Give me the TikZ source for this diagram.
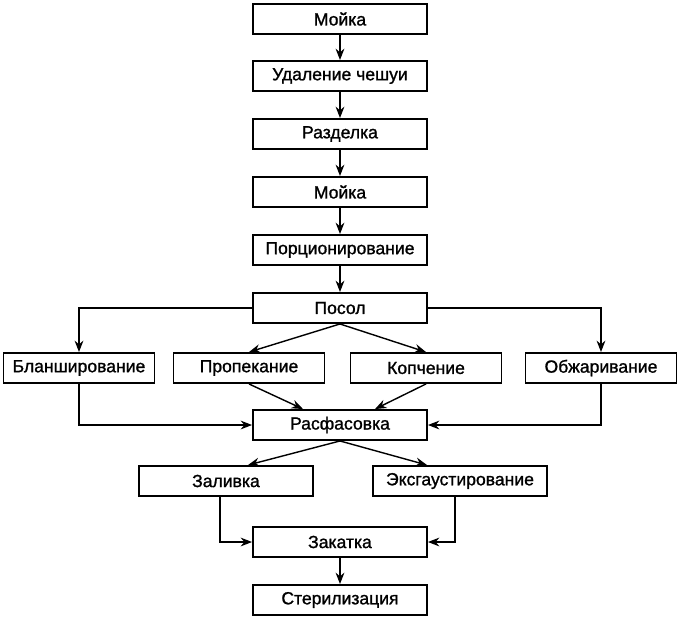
\documentclass[tikz,border=0pt]{standalone}
\usepackage{fontspec}
\setmainfont{Liberation Sans}
\newfontfamily\boxfont[FakeBold=1.2]{Liberation Sans}
\usetikzlibrary{arrows.meta, positioning}

\begin{document}
\begin{tikzpicture}[
  x=0.02cm, y=-0.02cm,
  box/.style={draw, line width=1.1pt, minimum width=3.48cm, minimum height=0.6cm, inner sep=0pt},
  side/.style={box, minimum width=3.02cm},
  >={Stealth[length=6.5pt,width=5pt]},
  line width=.8pt, font=\boxfont\fontsize{10}{12}\selectfont]

  \useasboundingbox (0,0) rectangle (681,620);

  % main line
  \node[box] (m1) at (340,19) {Мойка};
  \node[box] (ud) at (340,76) {Удаление чешуи};
  \node[box] (raz) at (340,134) {Разделка};
  \node[box] (m2) at (340,192) {Мойка};
  \node[box] (por) at (340,250) {Порционирование};
  \node[box] (pos) at (340,308) {Посол};

  % treatments
  \node[side] (bl) at (79,368) {Бланширование};
  \node[side] (pro) at (249,368) {Пропекание};
  \node[side] (kop) at (426,368) {Копчение};
  \node[side] (obz) at (601,368) {Обжаривание};

  \node[box] (ras) at (340,425) {Расфасовка};
  \node[box] (zal) at (226,481) {Заливка};
  \node[box] (eks) at (460,481) {Эксгаустирование};
  \node[box] (zak) at (340,542) {Закатка};
  \node[box] (ster) at (340,600) {Стерилизация};

  \path[->]
    (m1) edge (ud)
    (ud) edge (raz)
    (raz) edge (m2)
    (m2) edge (por)
    (por) edge (pos)
    (zak) edge (ster);

  \draw[->] (pos.west) -| (bl.north);
  \draw[->] (pos.east) -| (obz.north);
  \draw[->] (pos.south) -- (pro.north);
  \draw[->] (pos.south) -- (kop.north);

  \draw[->] (pro.south) -- ([xshift=-0.74cm]ras.north);
  \draw[->] (kop.south) -- ([xshift=0.7cm]ras.north);
  \draw[->] (bl.south) |- (ras.west);
  \draw[->] (obz.south) |- (ras.east);

  \draw[->] (ras.south) -- ([xshift=0.44cm]zal.north);
  \draw[->] (ras.south) -- ([xshift=-0.66cm]eks.north);
  \draw[->] ([xshift=-0.12cm]zal.south) |- (zak.west);
  \draw[->] ([xshift=-0.1cm]eks.south) |- (zak.east);
\end{tikzpicture}
\end{document}
